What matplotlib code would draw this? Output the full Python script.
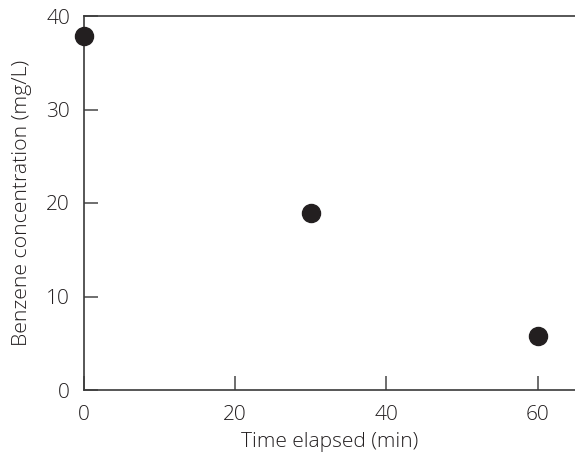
import matplotlib
matplotlib.use("Agg")
import matplotlib.pyplot as plt

time_min = [0, 30, 60]
benzene_mg_l = [37.9, 18.9, 5.8]
x_ticks = [0, 20, 40, 60]
y_ticks = [0, 10, 20, 30, 40]

plt.rcParams['font.family'] = ['Open Sans', 'DejaVu Sans']
plt.rcParams['font.weight'] = 'light'
plt.rcParams['axes.labelweight'] = 'light'

fig = plt.figure(figsize=(5.75, 4.63), dpi=100)
ax = fig.add_axes([84/575, 73/463, 1 - 84/575, 374/463])

ax.plot(time_min, benzene_mg_l, 'o', color='#231f20', markersize=13, clip_on=False, zorder=5)

ax.set_xlim(0, 60 + (575 - 537.7) / 151.2 * 20)
ax.set_ylim(0, 40)
ax.set_xticks(x_ticks)
ax.set_yticks(y_ticks)

spine_color = '#3a3a3a'
for s in ['left', 'bottom', 'top']:
    ax.spines[s].set_color(spine_color)
    ax.spines[s].set_linewidth(1.2)
ax.spines['right'].set_visible(False)

ax.tick_params(direction='in', length=10, width=1.2, color='#555555',
               labelsize=15, labelcolor='#231f20')
ax.tick_params(axis='x', pad=11)
ax.tick_params(axis='y', pad=10)

ax.set_xlabel('Time elapsed (min)', fontsize=15, fontweight='light', color='#231f20', labelpad=5)
ax.set_ylabel('Benzene concentration (mg/L)', fontsize=15.3, fontweight='light', color='#231f20', labelpad=10)

fig.savefig('out.png', dpi=100)
